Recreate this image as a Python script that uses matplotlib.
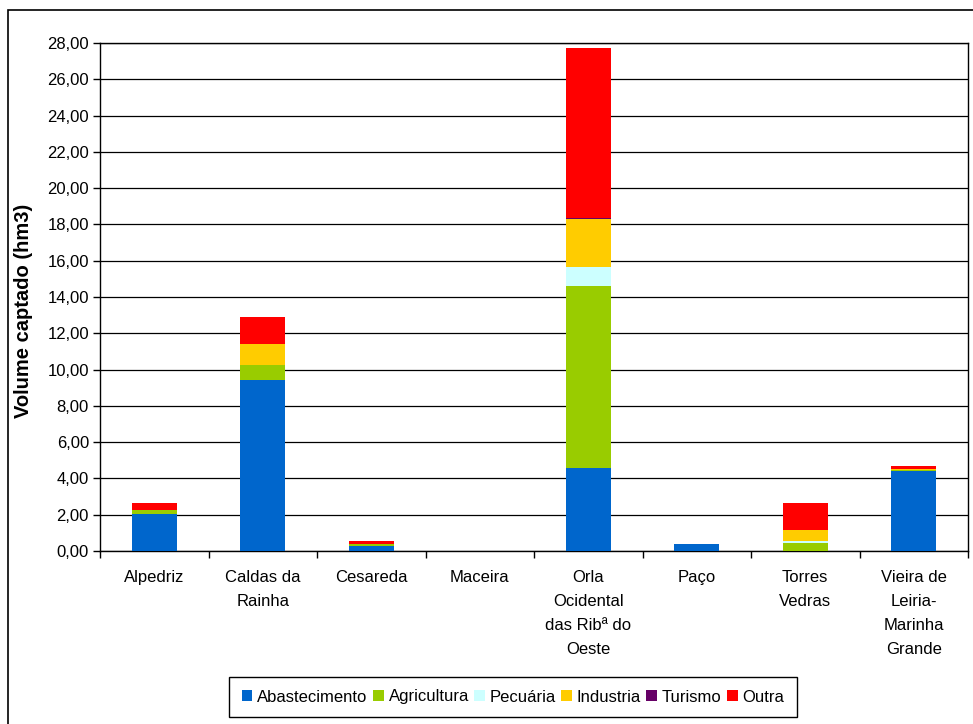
import matplotlib
matplotlib.use("Agg")
import matplotlib.pyplot as plt
from matplotlib.ticker import FuncFormatter, MultipleLocator, FixedLocator
from matplotlib.patches import Rectangle
import numpy as np

plt.rcParams['font.family'] = ['Liberation Sans', 'DejaVu Sans']

#Categories (aquifer systems)
categories = ['Alpedriz', 'Caldas da\nRainha', 'Cesareda', 'Maceira',
              'Orla\nOcidental\ndas Ribª do\nOeste', 'Paço', 'Torres\nVedras',
              'Vieira de\nLeiria-\nMarinha\nGrande']

#Volume captado (hm3) per use
abastecimento = [2.05, 9.45, 0.30, 0.00, 4.55, 0.38, 0.00, 4.42]
agricultura   = [0.20, 0.80, 0.06, 0.00, 10.05, 0.00, 0.45, 0.03]
pecuaria      = [0.00, 0.00, 0.00, 0.00, 1.05, 0.00, 0.08, 0.00]
industria     = [0.03, 1.15, 0.03, 0.00, 2.65, 0.00, 0.63, 0.08]
turismo       = [0.00, 0.00, 0.00, 0.00, 0.05, 0.00, 0.00, 0.00]
outra         = [0.37, 1.50, 0.18, 0.00, 9.35, 0.00, 1.50, 0.17]

series_names = ['Abastecimento', 'Agricultura', 'Pecuária', 'Industria', 'Turismo', 'Outra']
series_colors = ['#0066CC', '#99CC00', '#CCFFFF', '#FFCC00', '#660066', '#FF0000']
series_values = [abastecimento, agricultura, pecuaria, industria, turismo, outra]

fig = plt.figure(figsize=(9.73, 7.24), dpi=100)
ax = fig.add_axes([100/973, 1-551/724, 868/973, 508/724])

x = np.arange(len(categories))
bottom = np.zeros(len(categories))
handles = []
for name, col, vals in zip(series_names, series_colors, series_values):
    vals = np.array(vals)
    b = ax.bar(x, vals, width=0.415, bottom=bottom, color=col, label=name, zorder=3)
    handles.append(b)
    bottom = bottom + vals

ax.set_xlim(-0.5, len(categories) - 0.5)
ax.set_ylim(0, 28)
ax.yaxis.set_major_locator(MultipleLocator(2))
ax.yaxis.set_major_formatter(FuncFormatter(lambda v, p: ('%.2f' % v).replace('.', ',')))
ax.grid(axis='y', color='black', linewidth=0.9, zorder=0)
ax.set_axisbelow(True)

#category labels at centers, tick marks at the boundaries
ax.set_xticks(x)
ax.set_xticklabels(categories, fontsize=12, linespacing=1.75, va='top')
ax.tick_params(axis='x', which='major', length=0, pad=14)
ax.xaxis.set_minor_locator(FixedLocator(np.arange(-0.5, len(categories), 1.0)))
ax.tick_params(axis='x', which='minor', length=5, width=1, direction='out')
ax.tick_params(axis='y', labelsize=12, length=5, width=1, direction='out', pad=3)

for s in ax.spines.values():
    s.set_color('black')
    s.set_linewidth(1)

ax.set_ylabel('Volume captado (hm3)', fontsize=14.5, fontweight='bold')
ax.yaxis.set_label_coords(-67/868, 0.472)

#legend box under the chart
leg = fig.legend(handles=handles, labels=series_names, loc='lower left',
                 bbox_to_anchor=(224/973, 1-722/724, 578/973, 48/724),
                 mode='expand', ncol=6, fontsize=12, handlelength=0.65,
                 handleheight=0.65, handletextpad=0.3, columnspacing=0.3,
                 borderpad=0.75, borderaxespad=0.3, fancybox=False, framealpha=1,
                 edgecolor='black')
leg.get_frame().set_linewidth(1)

#outer chart frame
fig.patches.append(Rectangle((8/973, -0.1), 1.2, 1.1 - 10/724, transform=fig.transFigure,
                             fill=False, edgecolor='black', linewidth=1.2))

fig.savefig('out.png', dpi=100)
